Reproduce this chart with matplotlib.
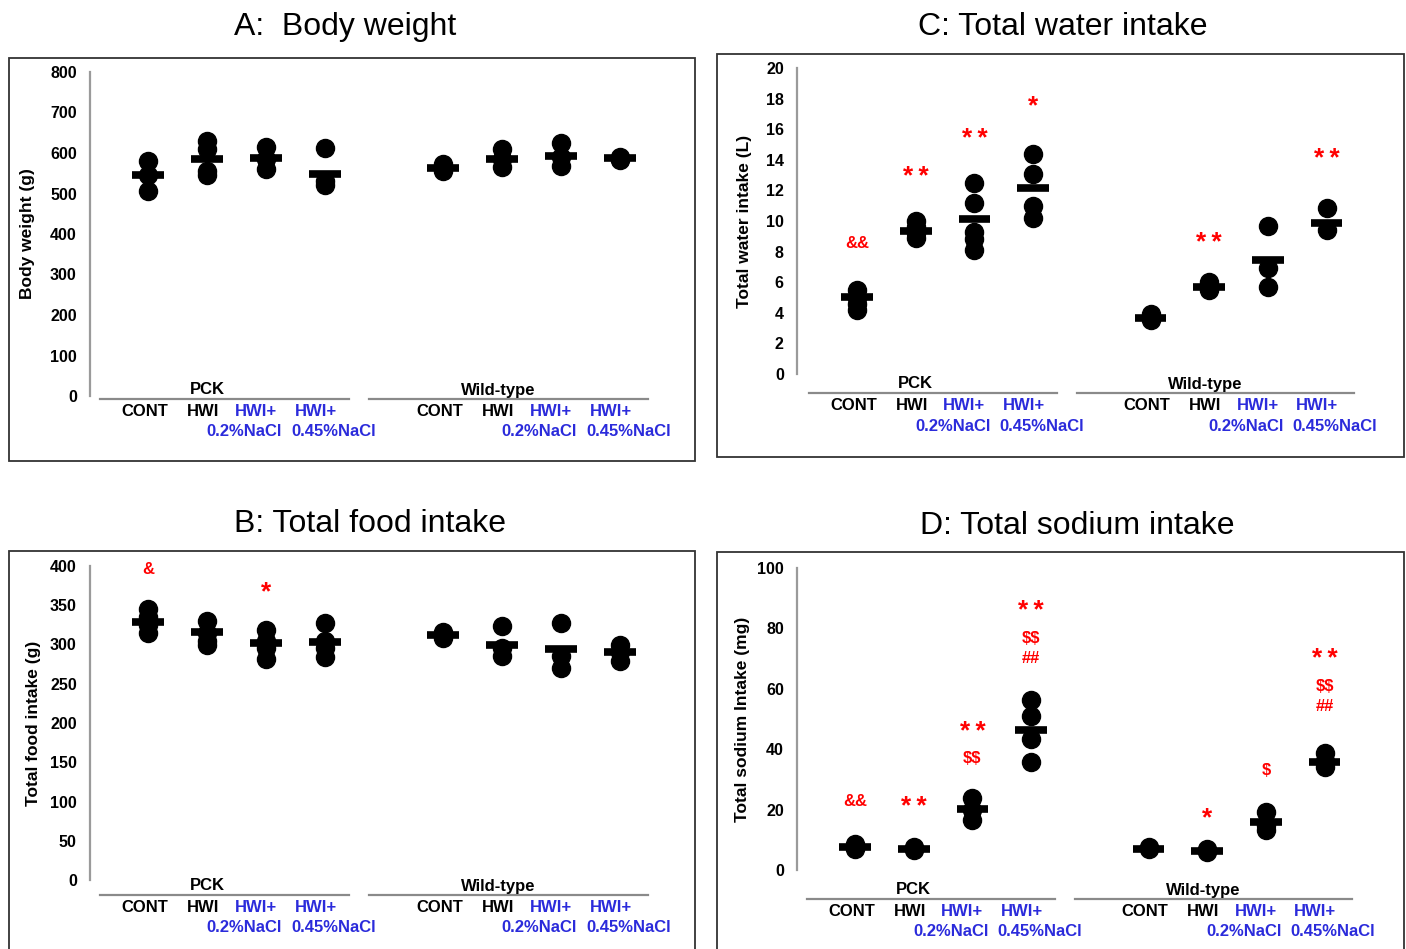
import matplotlib
matplotlib.use('Agg')
import matplotlib.pyplot as plt
from matplotlib.patches import Rectangle
from matplotlib import transforms

plt.rcParams['font.family'] = ['Liberation Sans', 'DejaVu Sans']
plt.rcParams['text.parse_math'] = False

# ---------------- data ----------------
groups = ['PCK', 'Wild-type']
cat_row1 = ['CONT', 'HWI', 'HWI+', 'HWI+']
cat_row2 = ['', '', '0.2%NaCl', '0.45%NaCl']
xpos = [0, 1, 2, 3, 5, 6, 7, 8]

# A: body weight (g)
bw_points = [[580, 545, 505], [630, 610, 555, 545], [615, 585, 560], [612, 530, 520],
             [572, 560, 555], [610, 585, 565], [625, 590, 568], [590, 585, 582]]
bw_means = [545, 585, 587, 548, 563, 585, 592, 587]
bw_marks = []

# B: total food intake (g)
food_points = [[345, 335, 325, 315], [330, 315, 305, 300], [318, 305, 295, 282], [328, 305, 295, 284],
               [316, 308], [324, 295, 285], [327, 285, 270], [300, 290, 279]]
food_means = [329, 316, 302, 303, 312, 300, 294, 290]
food_marks = [(0, 395, '&'), (2, 373, '*')]

# C: total water intake (L)
water_points = [[5.5, 5.0, 4.6, 4.2], [10.0, 9.6, 9.2, 8.9], [12.5, 11.2, 9.3, 8.8, 8.1], [14.4, 13.1, 11.0, 10.2],
                [3.9, 3.5], [6.0, 5.5], [9.7, 6.9, 5.7], [10.85, 9.4]]
water_means = [5.03, 9.35, 10.15, 12.15, 3.66, 5.7, 7.45, 9.9]
water_marks = [(0, 8.5, '&&'), (1, 13.2, '**'), (2, 15.7, '**'), (3, 17.8, '*'),
               (6, 8.9, '**'), (8, 14.4, '**')]

# D: total sodium intake (mg)
sodium_points = [[8.5, 7.0], [7.5, 6.5], [23.8, 20.0, 16.6], [56.3, 51.0, 43.4, 35.8],
                 [7.5, 6.8], [6.8, 6.0], [19.2, 15.0, 13.2], [38.7, 36.0, 34.1]]
sodium_means = [7.6, 7.0, 20.2, 46.4, 7.0, 6.4, 15.9, 35.8]
sodium_marks = [(0, 22.8, '&&'), (1, 22.5, '**'), (2, 47.3, '**'), (2, 37.0, '$$'),
                (3, 87.4, '**'), (3, 76.5, '$$'), (3, 69.9, '##'),
                (6, 18.9, '*'), (7, 33.0, '$'), (8, 71.5, '**'), (8, 60.6, '$$'), (8, 54.0, '##')]

# ---------------- layout ----------------
W, H = 1406, 949
fig = plt.figure(figsize=(W / 100, H / 100), dpi=100)

def fx(px):
    return px / W

def fy(py):
    return 1 - py / H

panels = [
    dict(title='A:  Body weight', tpos=(345, 27), box=(9, 58, 695, 461),
         axis_px=90, cat0=148, unit=59.0, y0=396, ytop=72, ylim=(0, 800), yticks=range(0, 801, 100),
         line_px=399, ylabel='Body weight (g)', ylx=28,
         points=bw_points, means=bw_means, marks=bw_marks),
    dict(title='B: Total food intake', tpos=(370, 524), box=(9, 551, 695, 990),
         axis_px=90, cat0=148, unit=59.0, y0=880, ytop=566, ylim=(0, 400), yticks=range(0, 401, 50),
         line_px=895, ylabel='Total food intake (g)', ylx=34,
         points=food_points, means=food_means, marks=food_marks),
    dict(title='C: Total water intake', tpos=(1063, 27), box=(717, 54, 1404, 457),
         axis_px=797, cat0=857, unit=58.7, y0=374, ytop=68, ylim=(0, 20), yticks=range(0, 21, 2),
         line_px=393, ylabel='Total water intake (L)', ylx=744,
         points=water_points, means=water_means, marks=water_marks),
    dict(title='D: Total sodium intake', tpos=(1077, 526), box=(717, 552, 1404, 990),
         axis_px=797, cat0=855, unit=58.7, y0=870, ytop=568, ylim=(0, 100), yticks=range(0, 101, 20),
         line_px=899, ylabel='Total sodium Intake (mg)', ylx=742,
         points=sodium_points, means=sodium_means, marks=sodium_marks),
]

row1_dx = [-0.06, -0.07, -0.17, -0.16]
row2_dx = [0, 0, -0.37, 0.14]
blue = '#2b2bdb'

for p in panels:
    bx0, by0, bx1, by1 = p['box']
    fig.patches.append(Rectangle((fx(bx0), fy(by1)), fx(bx1) - fx(bx0), fy(by0) - fy(by1),
                                 transform=fig.transFigure, fill=False, edgecolor='#333333',
                                 linewidth=1.3, zorder=0))
    fig.text(fx(p['tpos'][0]), fy(p['tpos'][1]), p['title'], ha='center', va='center', fontsize=23)

    right_px = bx1 - 12
    ax = fig.add_axes([fx(p['axis_px']), fy(p['y0']), (right_px - p['axis_px']) / W,
                       (p['y0'] - p['ytop']) / H])
    xmin = (p['axis_px'] - p['cat0']) / p['unit']
    xmax = (right_px - p['cat0']) / p['unit']
    ax.set_xlim(xmin, xmax)
    ax.set_ylim(*p['ylim'])
    ax.patch.set_alpha(0)
    for s in ['top', 'right', 'bottom']:
        ax.spines[s].set_visible(False)
    ax.spines['left'].set_color('#9a9a9a')
    ax.spines['left'].set_linewidth(1.6)
    ax.set_xticks([])
    ax.set_yticks(list(p['yticks']))
    ax.tick_params(axis='y', length=0, pad=9.5, labelsize=11.5)
    for lab in ax.get_yticklabels():
        lab.set_fontweight('bold')

    for x, pts, m in zip(xpos, p['points'], p['means']):
        ax.plot([x] * len(pts), pts, 'o', ms=13, color='black', mec='black', clip_on=False, zorder=3)
        ax.hlines(m, x - 0.27, x + 0.27, colors='black', linewidth=5.5, zorder=4)

    for ci, yv, txt in p['marks']:
        star = set(txt) == {'*'}
        shown = '\u2009'.join(txt) if star else txt
        ax.annotate(shown, xy=(ci, yv), xytext=(0, -5 if star else 0), textcoords='offset pixels',
                    color='red', ha='center', va='center', fontweight='bold',
                    fontsize=19 if star else 12, annotation_clip=False)

    fig.text(fx(p['ylx']), fy((p['y0'] + p['ytop']) / 2), p['ylabel'], rotation=90,
             ha='center', va='center', fontsize=12.5, fontweight='bold')

    trans = transforms.blended_transform_factory(ax.transData, fig.transFigure)
    lp = p['line_px']
    for g, (xa, xb, xc) in enumerate([(-0.82, 3.41, 1.0), (3.75, 8.47, 5.93)]):
        ax.plot([xa, xb], [fy(lp), fy(lp)], transform=trans, color='#8a8a8a', lw=1.6, clip_on=False)
        ax.text(xc, fy(lp - 9), groups[g], transform=trans, ha='center', va='center',
                fontsize=12, fontweight='bold')
        off = 0 if g == 0 else 5
        for i in range(4):
            ax.text(off + i + row1_dx[i], fy(lp + 12), cat_row1[i], transform=trans,
                    ha='center', va='center', fontsize=12, fontweight='bold',
                    color='black' if i < 2 else blue)
            if cat_row2[i]:
                ax.text(off + i + row2_dx[i], fy(lp + 33), cat_row2[i], transform=trans,
                        ha='center', va='center', fontsize=12, fontweight='bold', color=blue)

fig.savefig('out.png', dpi=100)
